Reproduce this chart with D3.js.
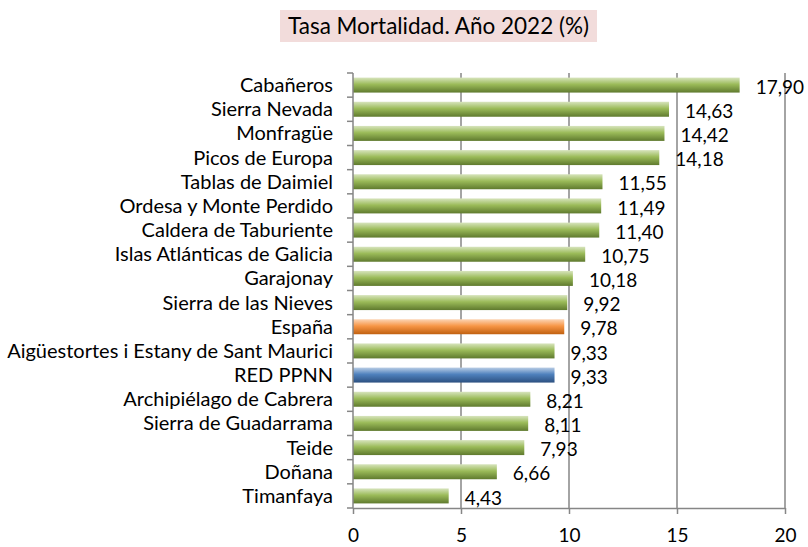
<!DOCTYPE html>
<html>
<head>
<meta charset="utf-8">
<title>Tasa Mortalidad</title>
<script src="https://d3js.org/d3.v7.min.js"></script>
<style>
  body { margin: 0; background: #fff; }
  text { font-family: Lato, "Open Sans", sans-serif; fill: #000; }
</style>
</head>
<body>
<div id="chart"></div>
<script>
const categories = ["Cabañeros", "Sierra Nevada", "Monfragüe", "Picos de Europa", "Tablas de Daimiel",
  "Ordesa y Monte Perdido", "Caldera de Taburiente", "Islas Atlánticas de Galicia", "Garajonay",
  "Sierra de las Nieves", "España", "Aigüestortes i Estany de Sant Maurici", "RED PPNN",
  "Archipiélago de Cabrera", "Sierra de Guadarrama", "Teide", "Doñana", "Timanfaya"];
const values = [17.90, 14.63, 14.42, 14.18, 11.55, 11.49, 11.40, 10.75, 10.18,
  9.92, 9.78, 9.33, 9.33, 8.21, 8.11, 7.93, 6.66, 4.43];
const xTicks = [0, 5, 10, 15, 20];
const title = "Tasa Mortalidad. Año 2022 (%)";

const w = 808, h = 547;
const m = { left: 353, right: 23, top: 73, bottom: 39 };

const svg = d3.select("#chart").append("svg")
  .attr("width", w).attr("height", h);

// gradientes tipo Excel
const defs = svg.append("defs");
const grads = {
  green: ["#d7e4bd", "#9bbb59", "#5f7a2e"],
  orange: ["#fcd5b5", "#f79646", "#c0600f"],
  blue: ["#b9cde5", "#4f81bd", "#2c5080"]
};
Object.entries(grads).forEach(([k, c]) => {
  const g = defs.append("linearGradient").attr("id", "g-" + k)
    .attr("x1", 0).attr("y1", 0).attr("x2", 0).attr("y2", 1);
  g.append("stop").attr("offset", "0%").attr("stop-color", c[0]);
  g.append("stop").attr("offset", "45%").attr("stop-color", c[1]);
  g.append("stop").attr("offset", "100%").attr("stop-color", c[2]);
});
function fillFor(d) {
  if (d === "España") return "url(#g-orange)";
  if (d === "RED PPNN") return "url(#g-blue)";
  return "url(#g-green)";
}

const x = d3.scaleLinear().domain([0, 20]).range([m.left, w - m.right]);
const y = d3.scaleBand().domain(categories)
  .range([m.top, h - m.bottom]).paddingInner(0.38).paddingOuter(0.19);

// titulo
const tg = svg.append("g");
tg.append("rect").attr("x", 280).attr("y", 10).attr("width", 317).attr("height", 32)
  .attr("fill", "#f2dcdb");
tg.append("text").attr("x", 438.5).attr("y", 34).attr("text-anchor", "middle")
  .attr("font-size", "22.5px").text(title);

// grid
svg.append("g").selectAll("line").data(xTicks.slice(1)).enter().append("line")
  .attr("x1", d => x(d)).attr("x2", d => x(d))
  .attr("y1", m.top).attr("y2", h - m.bottom)
  .attr("stroke", "#868686").attr("stroke-width", 1.5);

// barras
svg.append("g").selectAll("rect").data(categories).enter().append("rect")
  .attr("x", x(0))
  .attr("y", d => y(d))
  .attr("width", (d, i) => x(values[i]) - x(0))
  .attr("height", y.bandwidth())
  .attr("fill", d => fillFor(d));

// etiquetas de valor
svg.append("g").selectAll("text").data(categories).enter().append("text")
  .attr("x", (d, i) => x(values[i]) + 16)
  .attr("y", d => y(d) + y.bandwidth() / 2 + 2)
  .attr("dy", "0.35em")
  .attr("font-size", "19px")
  .text((d, i) => values[i].toFixed(2).replace(".", ","));

// eje y
const yAxis = svg.append("g").attr("transform", `translate(${m.left},0)`);
yAxis.append("line").attr("y1", m.top).attr("y2", h - m.bottom)
  .attr("stroke", "#868686").attr("stroke-width", 1.5);
const bounds = d3.range(categories.length + 1).map(i => m.top + i * (h - m.bottom - m.top) / categories.length);
yAxis.selectAll("line.tk").data(bounds).enter().append("line").attr("class", "tk")
  .attr("x1", -6).attr("x2", 0).attr("y1", d => d).attr("y2", d => d)
  .attr("stroke", "#868686").attr("stroke-width", 1.5);
yAxis.selectAll("text").data(categories).enter().append("text")
  .attr("x", -20).attr("y", d => y(d) + y.bandwidth() / 2)
  .attr("dy", "0.35em").attr("text-anchor", "end").attr("font-size", "20px")
  .text(d => d);

// eje x
const xAxis = svg.append("g").attr("transform", `translate(0,${h - m.bottom})`)
  .call(d3.axisBottom(x).tickValues(xTicks).tickSize(6).tickSizeOuter(0).tickPadding(15));
xAxis.selectAll("path, line").attr("stroke", "#868686").attr("stroke-width", 1.5);
xAxis.selectAll("text").attr("font-size", "19px").attr("font-family", "Lato, sans-serif").attr("fill", "#000");
</script>
</body>
</html>
